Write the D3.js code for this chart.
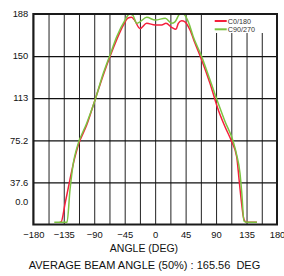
<!DOCTYPE html>
<html>
<head>
<meta charset="utf-8">
<script src="https://cdn.jsdelivr.net/npm/d3@7"></script>
<style>
  html, body { margin: 0; padding: 0; background: #fff; }
  svg { display: block; font-family: 'Liberation Sans', Arial, sans-serif; }
</style>
</head>
<body>
<div class="beam_chart"></div>
<script>
// series
const seriesNames = ['C0/180', 'C90/270'];
const seriesColors = ['#f5203c', '#7cc442'];

const c0Angles = [-141, -139, -133, -126, -119, -113.5, -101, -89, -76.6, -66.7, -56.8, -47, -40, -35, -31, -22.4, -12.5, 0, 9.7, 16, 24.4, 30.8, 34.2, 39.2, 44.1, 51.5, 58.9, 68.7, 81.1, 93.3, 103.2, 113.1, 120.5, 124, 127.5, 130, 132.5, 136, 150.4];
const c0Values = [2, 2.2, 18.9, 39.7, 59, 71, 89, 111, 133.5, 150, 165, 178, 184.5, 185, 183, 175, 179.7, 178.2, 178.2, 179.7, 176, 174.3, 179.7, 182, 181, 173.7, 161.8, 147, 126, 102.3, 87.3, 74, 60.5, 40, 20, 8, 3, 2, 2];

const c90Angles = [-149, -130.2, -125.8, -120.9, -115.9, -101.1, -88.9, -76.6, -66.7, -56.8, -44.5, -38, -33, -27.3, -22.4, -12.5, 0.2, 15, 24.4, 29.3, 36.7, 41.6, 49, 56.3, 68.7, 81.1, 93.3, 103.2, 115.4, 120.5, 125.3, 128, 131.2, 136, 150.4];
const c90Values = [2, 2, 30.8, 54.7, 68, 90.4, 111, 135, 151.4, 167.7, 182.6, 188, 187, 179.7, 181, 185, 182.6, 184.2, 179.7, 181, 188, 188, 181, 167.7, 150, 129, 108, 92, 74, 62, 46, 28, 3, 2, 2];

const xTicks = [-180, -135, -90, -45, 0, 45, 90, 135, 180];
const xGrid = d3.range(-180, 180.1, 22.5);
const yTickValues = [0, 37.6, 75.2, 112.8, 150.4, 188];
const yTickLabels = ['0.0', '37.6', '75.2', '113', '150', '188'];

const xTitle = 'ANGLE (DEG)';
const footNote = 'AVERAGE BEAM ANGLE (50%) : 165.56  DEG';

function drawBeamChart() {
    const width = 284;
    const height = 276;
    const plot = { left: 33.3, right: 277, top: 14, bottom: 224.5 };

    const x = d3.scaleLinear().domain([-180, 180]).range([plot.left, plot.right]);
    const y = d3.scaleLinear().domain([0, 188]).range([plot.bottom, plot.top]);

    const svg = d3.select('.beam_chart')
        .append('svg')
        .attr('width', width)
        .attr('height', height);

    // vertical grid
    svg.append('g')
        .attr('transform', `translate(0,${plot.top})`)
        .call(d3.axisBottom(x).tickValues(xGrid).tickSize(plot.bottom - plot.top).tickFormat(''))
        .call(g => g.select('.domain').remove())
        .call(g => g.selectAll('line').attr('stroke', '#222').attr('stroke-width', 1));

    // horizontal grid (not at 0, that is the frame)
    svg.append('g')
        .attr('transform', `translate(${plot.left},0)`)
        .call(d3.axisRight(y).tickValues(yTickValues.slice(1)).tickSize(plot.right - plot.left).tickFormat(''))
        .call(g => g.select('.domain').remove())
        .call(g => g.selectAll('line').attr('stroke', '#111').attr('stroke-width', 1.2));

    // curves
    const line = d3.line()
        .x(d => x(d[0]))
        .y(d => y(d[1]))
        .curve(d3.curveMonotoneX);

    const series = [
        d3.zip(c0Angles, c0Values),
        d3.zip(c90Angles, c90Values)
    ];

    svg.append('g')
        .selectAll('path')
        .data(series)
        .enter()
        .append('path')
        .attr('d', line)
        .attr('fill', 'none')
        .attr('stroke', (d, i) => seriesColors[i])
        .attr('stroke-width', 1.5)
        .attr('stroke-linejoin', 'round');

    // frame
    svg.append('rect')
        .attr('x', plot.left)
        .attr('y', plot.top)
        .attr('width', plot.right - plot.left)
        .attr('height', plot.bottom - plot.top)
        .attr('fill', 'none')
        .attr('stroke', '#1a1a1a')
        .attr('stroke-width', 2);

    // legend
    const legend = svg.append('g');
    legend.append('rect')
        .attr('x', x(86.5))
        .attr('y', plot.top + 1)
        .attr('width', plot.right - 1 - x(86.5))
        .attr('height', 18)
        .attr('fill', '#fff');

    const item = legend.selectAll('g.item')
        .data(seriesNames)
        .enter()
        .append('g')
        .attr('class', 'item')
        .attr('transform', (d, i) => `translate(${x(88)},${21 + i * 8.3})`);

    item.append('line')
        .attr('x1', 0)
        .attr('x2', 12)
        .attr('stroke', (d, i) => seriesColors[i])
        .attr('stroke-width', 2);

    item.append('text')
        .attr('x', 13)
        .attr('dy', '0.35em')
        .style('font-size', '7.2px')
        .style('fill', '#333')
        .text(d => d);

    // x tick labels
    svg.append('g')
        .attr('transform', `translate(0,${plot.bottom})`)
        .call(d3.axisBottom(x).tickValues(xTicks).tickSize(0).tickPadding(7))
        .call(g => g.select('.domain').remove())
        .call(g => g.selectAll('text')
            .style('font-family', "'Liberation Sans', Arial, sans-serif")
            .style('font-size', '9.4px')
            .style('fill', '#111'));

    // y tick labels, the 0.0 one sits a bit above the frame
    svg.append('g')
        .selectAll('text')
        .data(yTickValues)
        .enter()
        .append('text')
        .attr('x', plot.left - 5)
        .attr('y', d => d === 0 ? y(d) - 22.8 : y(d))
        .attr('dy', '0.35em')
        .attr('text-anchor', 'end')
        .style('font-size', '9.4px')
        .style('fill', '#111')
        .text((d, i) => yTickLabels[i]);

    svg.append('text')
        .attr('x', 144)
        .attr('y', 251.7)
        .attr('text-anchor', 'middle')
        .style('font-size', '10.5px')
        .style('fill', '#111')
        .text(xTitle);

    svg.append('text')
        .attr('x', 144.5)
        .attr('y', 269)
        .attr('text-anchor', 'middle')
        .style('font-size', '11px')
        .style('fill', '#111')
        .style('white-space', 'pre')
        .text(footNote);
}

drawBeamChart();
</script>
</body>
</html>
